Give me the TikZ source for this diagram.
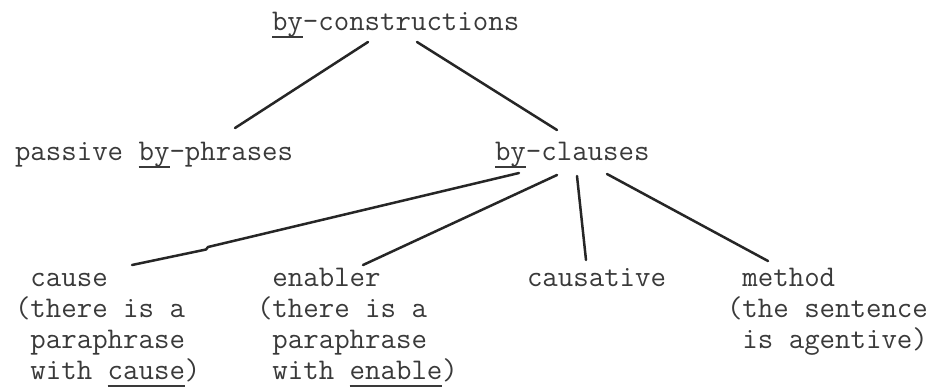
\documentclass[tikz,border=0pt]{standalone}
\usepackage{fontspec}
\definecolor{ink}{HTML}{3a3a3a}
\definecolor{linec}{HTML}{262626}
% typewriter-style underline: a rule a little below the baseline
\newsavebox\ulbox
\newcommand\typeul[1]{\sbox\ulbox{#1}\rlap{\rule[-3.8pt]{\wd\ulbox}{0.9pt}}\usebox\ulbox}
\begin{document}
\begin{tikzpicture}[x=0.5pt,y=-0.5pt,
  every node/.style={inner sep=0pt, outer sep=0pt},
  term/.style={font=\fontsize{15}{15.5}\selectfont\ttfamily\addfontfeatures{FakeBold=0.6},
    text=ink, anchor=base west, align=left},
  branch/.style={draw=linec, line width=1.25pt, line cap=round, line join=round}]
\useasboundingbox[fill=white] (0,0) rectangle (941,386);

% tree labels (multi-line labels are placed by the baseline of their last line)
\node[term] (top) at (272,30) {\typeul{by}-constructions};
\node[term] (passive) at (15,160) {passive \typeul{by}-phrases};
\node[term] (clauses) at (495,160) {\typeul{by}-clauses};
\node[term] (cause) at (15,379)
  {\hphantom{(}cause\\(there is a\\\hphantom{(}paraphrase\\\hphantom{(}with \typeul{cause})};
\node[term] (enabler) at (257,379)
  {\hphantom{(}enabler\\(there is a\\\hphantom{(}paraphrase\\\hphantom{(}with \typeul{enable})};
\node[term] (causative) at (527,286) {causative};
\node[term] (method) at (727,348)
  {\hphantom{(}method\\(the sentence\\\hphantom{(}is agentive)};

% branches
\draw[branch] ([shift={(96,12)}]top.base west) -- ([shift={(220,-32)}]passive.base west);
\draw[branch] ([shift={(145,12)}]top.base west) -- ([shift={(62,-30)}]clauses.base west);
\draw[branch] ([shift={(24,13)}]clauses.base west)
  -- ([shift={(193,-132)}]cause.base west)
  -- ([shift={(191,-129.5)}]cause.base west)
  -- ([shift={(117,-114)}]cause.base west);
\draw[branch] ([shift={(62,15)}]clauses.base west) -- ([shift={(106,-114)}]enabler.base west);
\draw[branch] ([shift={(82,16)}]clauses.base west) -- ([shift={(59,-26)}]causative.base west);
\draw[branch] ([shift={(112,14)}]clauses.base west) -- ([shift={(41,-87)}]method.base west);
\end{tikzpicture}
\end{document}
